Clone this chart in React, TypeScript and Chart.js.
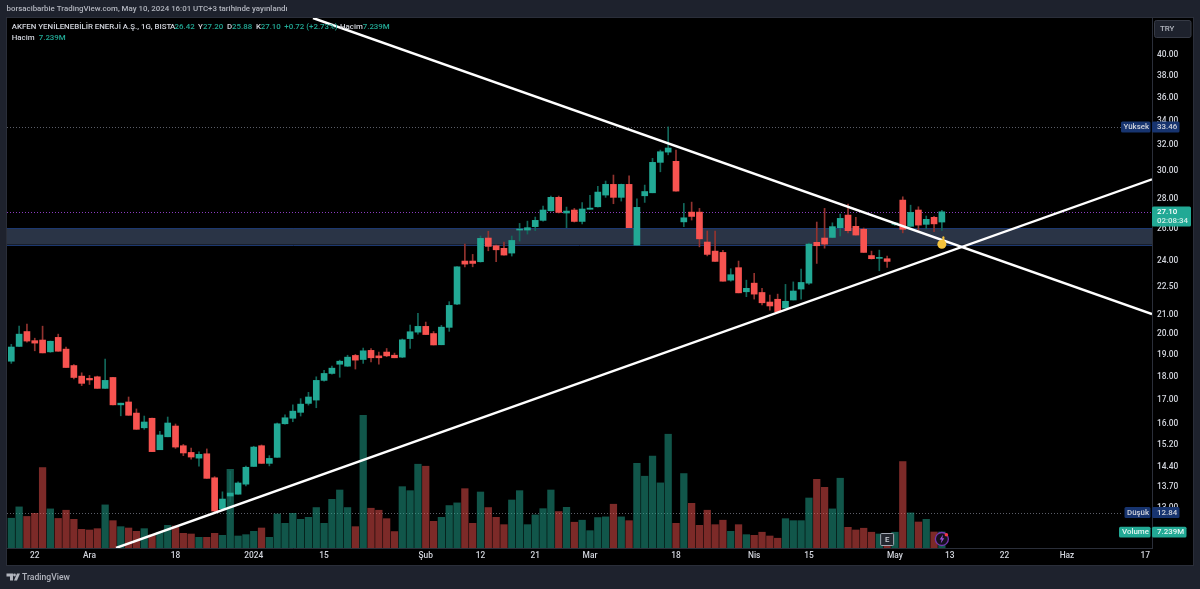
import React, { useEffect, useRef } from "react";
import { Chart, registerables } from "chart.js";

Chart.register(...registerables);

const FONT = "Roboto";

const opens = [
  18.70,19.40,20.13,19.68,19.71,19.14,19.84,19.27,18.50,18.02,
  17.92,17.99,17.48,17.96,16.78,16.90,16.44,15.85,16.23,15.01,
  15.50,15.92,15.16,14.91,14.70,14.86,14.00,12.96,13.38,13.44,
  13.78,14.40,15.16,14.51,14.73,16.01,16.23,16.47,16.84,16.98,
  17.83,18.14,18.56,18.47,18.97,18.78,19.21,18.95,19.13,18.98,
  18.89,19.78,20.10,20.39,20.03,19.48,20.34,21.55,23.98,23.98,
  23.94,25.39,24.91,24.75,24.46,25.90,25.90,26.12,26.53,27.17,
  28.09,27.02,27.22,26.46,27.27,27.44,28.25,29.01,28.09,29.01,
  24.95,28.20,28.41,30.64,31.43,30.72,26.43,27.08,27.08,25.14,
  24.58,24.50,22.87,23.59,22.22,22.70,22.18,21.66,21.81,21.34,
  21.77,22.37,22.70,25.12,25.39,25.43,26.05,26.88,26.14,25.95,
  24.31,24.14,24.12,26.27,27.90,26.14,27.22,26.27,26.73,26.42,
];
const highs = [
  19.50,20.40,20.50,19.80,20.40,19.66,20.00,19.37,18.55,18.17,
  18.05,18.02,18.80,17.97,16.85,17.11,16.61,16.32,16.24,15.71,
  16.28,16.00,15.21,15.07,14.93,15.04,14.04,13.52,14.23,13.86,
  14.41,15.14,15.19,14.79,16.04,16.37,16.78,17.04,17.31,17.99,
  18.28,18.47,18.75,18.98,19.02,19.32,19.30,19.13,19.30,19.08,
  19.76,20.45,21.06,20.61,20.13,20.44,21.68,23.66,25.01,24.38,
  25.52,25.82,24.95,25.14,25.52,26.33,26.48,26.75,27.49,28.18,
  28.18,27.42,27.33,27.72,28.23,28.87,29.25,29.69,29.03,29.64,
  27.99,28.96,30.95,31.59,33.46,31.59,27.67,27.76,27.33,25.84,
  25.84,24.62,23.53,23.98,22.87,23.26,22.41,22.04,22.09,22.63,
  22.77,23.51,25.07,26.42,27.33,26.37,26.95,27.62,26.73,26.03,
  24.58,24.64,24.28,26.40,28.13,27.55,27.44,26.82,26.79,27.20,
];
const lows = [
  18.60,19.40,19.60,19.19,19.09,19.12,19.17,18.41,17.90,17.60,
  17.65,17.48,17.48,16.78,16.33,16.35,15.79,15.79,14.94,15.01,
  15.50,15.06,14.79,14.66,14.41,13.98,12.84,12.96,13.19,13.44,
  13.72,14.40,14.51,14.42,14.73,15.99,16.09,16.32,16.77,16.66,
  17.80,18.11,17.97,18.46,18.34,18.60,18.67,18.56,18.91,18.86,
  18.87,19.30,20.00,19.98,19.47,19.48,20.14,21.52,23.64,23.64,
  23.92,24.60,23.94,24.34,24.28,25.20,25.64,25.86,26.48,27.15,
  27.02,26.05,26.42,26.30,27.27,27.42,28.09,27.65,27.83,26.05,
  24.95,27.74,28.41,29.93,31.22,28.53,26.12,26.55,24.84,24.29,
  23.96,22.81,22.81,22.16,21.95,21.82,21.50,21.23,21.14,21.34,
  21.77,21.81,22.63,23.84,24.76,25.41,25.52,25.72,25.58,24.50,
  24.10,23.41,23.61,26.20,25.72,26.14,25.90,25.98,25.79,25.88,
];
const closes = [
  19.37,20.00,19.66,19.56,19.09,19.65,19.17,18.41,17.96,17.70,
  17.85,17.48,17.83,16.78,16.85,16.35,15.79,16.08,14.94,15.57,
  16.04,15.11,14.89,14.74,14.84,13.98,12.89,13.28,13.48,13.82,
  14.37,15.11,14.51,14.69,16.01,16.25,16.52,16.81,17.11,17.83,
  18.14,18.38,18.70,18.89,18.75,19.19,18.86,18.86,18.95,18.86,
  19.72,20.12,20.39,19.98,19.47,20.35,21.48,23.64,23.80,23.84,
  25.37,24.87,24.66,24.34,25.24,25.96,26.05,26.53,27.22,28.09,
  27.06,27.15,26.46,27.29,27.35,28.46,29.01,28.09,29.01,26.05,
  27.40,28.50,30.64,31.46,31.75,28.53,26.70,26.79,25.34,24.38,
  23.96,22.81,23.18,22.16,22.41,22.09,21.62,21.45,21.14,21.70,
  22.26,22.74,25.01,24.91,25.01,26.12,26.66,25.86,25.58,24.50,
  24.12,24.20,23.96,26.36,25.95,27.06,26.22,26.60,26.30,27.10,
];
const volumes = [
  13.4,18.5,14.2,15.6,36.2,17.6,13.3,17.0,12.9,8.4,
  8.1,8.7,19.4,12.3,9.6,9.0,7.5,8.7,5.9,7.1,
  10.2,9.9,6.6,6.3,4.8,4.8,6.6,5.7,35.4,5.4,
  6.0,7.5,9.0,4.8,15.3,11.1,15.6,12.9,13.8,18.2,
  11.1,21.9,26.1,18.2,9.6,59.7,17.9,17.0,13.2,7.4,
  27.6,25.8,37.7,36.8,12.0,13.8,19.1,20.3,26.7,11.1,
  25.2,18.2,13.8,10.5,21.6,25.8,10.5,14.9,17.7,26.1,
  16.4,18.3,11.6,12.5,7.8,13.7,14.0,19.7,14.0,12.3,
  38.1,32.3,41.4,29.3,51.2,11.1,33.5,20.1,10.2,17.0,
  10.5,12.5,7.5,10.5,6.0,5.7,7.1,5.4,4.4,13.2,
  12.3,12.3,22.5,30.9,27.3,17.6,31.4,9.3,8.1,8.9,
  7.1,6.3,4.5,7.1,38.9,15.8,11.7,12.9,7.2,7.239,
];

const priceTicks = [40,38,36,34,32,30,28,26,24,22.5,21,20,19,18,17,16,15.2,14.4,13.7,13];
const timeTickIndex = [3,10,21,31,40,53,60,67,74,85,95,102,113,120,127,135,145];
const timeTickLabels = ["22","Ara","18","2024","15","Şub","12","21","Mar","18","Nis","15","May","13","22","Haz","17"];

const resistanceX = [38.58, 145.87];
const resistanceY = [43.85, 21.02];
const supportX = [13.39, 145.87];
const supportY = [11.76, 29.38];
const zoneTop = 26.03;
const zoneBottom = 24.98;
const highMark = 33.46;
const lowMark = 12.84;
const lastClose = 27.10;
const markerIndex = 119;
const markerPrice = 25.0;

const GREEN = "#22a995";
const RED = "#f75350";
const GREEN_WICK = "#12685b";
const RED_WICK = "#93332f";
const GREEN_VOL = "rgba(34,171,148,0.5)";
const RED_VOL = "rgba(247,83,80,0.5)";
const NAVY = "#17346f";
const TEXT = "#d1d4dc";

const up = closes.map((c, i) => c >= opens[i]);

function tag(ctx: any, x0: number, x1: number, y0: number, y1: number, fill: string, text: string, tx: number, ty: number, color: string, align: any = "left") {
  ctx.fillStyle = fill;
  ctx.beginPath();
  ctx.roundRect(x0, y0, x1 - x0, y1 - y0, 1.5);
  ctx.fill();
  ctx.fillStyle = color;
  ctx.textAlign = align;
  ctx.textBaseline = "middle";
  ctx.fillText(text, tx, ty);
}

const backdrop = {
  id: "backdrop",
  beforeDraw(chart: any) {
    const ctx = chart.ctx;
    ctx.save();
    ctx.fillStyle = "#1e222d";
    ctx.fillRect(0, 0, 1200, 589);
    ctx.fillStyle = "#000000";
    ctx.fillRect(7, 18, 1186, 547.5);
    ctx.strokeStyle = "#2a2e39";
    ctx.strokeRect(6.5, 17.5, 1187, 548);
    ctx.restore();
  },
  beforeDatasetsDraw(chart: any) {
    const ctx = chart.ctx;
    const y = chart.scales.y;
    const { left, right } = chart.chartArea;
    ctx.save();
    const t = y.getPixelForValue(zoneTop);
    const b = y.getPixelForValue(zoneBottom);
    ctx.fillStyle = "#2a3446";
    ctx.fillRect(left, t, right - left, b - t);
    ctx.strokeStyle = "#1c3870";
    ctx.lineWidth = 1;
    ctx.beginPath();
    ctx.moveTo(left, Math.round(t) + 0.5);
    ctx.lineTo(right, Math.round(t) + 0.5);
    ctx.moveTo(left, Math.round(b) + 0.5);
    ctx.lineTo(right, Math.round(b) + 0.5);
    ctx.stroke();
    ctx.setLineDash([1, 2]);
    ctx.strokeStyle = "#5b5e68";
    ctx.beginPath();
    for (const v of [highMark, lowMark]) {
      const py = Math.round(y.getPixelForValue(v)) + 0.5;
      ctx.moveTo(left, py);
      ctx.lineTo(1121, py);
    }
    ctx.stroke();
    ctx.strokeStyle = "#8a3cc0";
    ctx.beginPath();
    const py = Math.round(y.getPixelForValue(lastClose)) + 0.5;
    ctx.moveTo(left, py);
    ctx.lineTo(right, py);
    ctx.stroke();
    ctx.restore();
  },
  afterDraw(chart: any) {
    const ctx = chart.ctx;
    const y = chart.scales.y;
    const x = chart.scales.x;
    ctx.save();
    ctx.textBaseline = "middle";
    ctx.textAlign = "left";

    ctx.font = `500 7.9px ${FONT}`;
    ctx.fillStyle = "#b2b5be";
    ctx.fillText("borsacibarbie TradingView.com, May 10, 2024 16:01 UTC+3 tarihinde yayınlandı", 6.5, 9.5);

    const t1 = (s: string, px: number, py: number, c: string) => {
      ctx.fillStyle = c;
      ctx.fillText(s, px, py);
    };
    ctx.font = `500 7.9px ${FONT}`;
    t1("AKFEN YENİLENEBİLİR ENERJİ A.Ş., 1G, BIST", 11.7, 27, TEXT);
    t1("A", 170, 27, TEXT);
    t1("26.42", 174.5, 27, GREEN);
    t1("Y", 198, 27, TEXT);
    t1("27.20", 203, 27, GREEN);
    t1("D", 227, 27, TEXT);
    t1("25.88", 232, 27, GREEN);
    t1("K", 256, 27, TEXT);
    t1("27.10", 260.7, 27, GREEN);
    t1("+0.72 (+2.73%)", 284.3, 27, GREEN);
    t1("Hacim", 340, 27, TEXT);
    t1("7.239M", 362.7, 27, GREEN);
    t1("Hacim", 11.7, 38, TEXT);
    t1("7.239M", 38.7, 38, GREEN);

    // Currency button
    ctx.fillStyle = "#1e222d";
    ctx.strokeStyle = "#363a45";
    ctx.beginPath();
    ctx.roundRect(1154.5, 20.5, 36.5, 17, 2);
    ctx.fill();
    ctx.stroke();
    t1("TRY", 1160, 29, "#b2b5be");

    // Price tags
    const hy = y.getPixelForValue(highMark);
    tag(ctx, 1121, 1150.5, hy - 5.5, hy + 5.5, NAVY, "Yüksek", 1123.5, hy, TEXT);
    tag(ctx, 1152, 1179.5, hy - 5.5, hy + 5.5, NAVY, "33.46", 1157, hy, TEXT);
    const ly = y.getPixelForValue(lowMark);
    tag(ctx, 1124.5, 1150.5, ly - 5.5, ly + 5.5, NAVY, "Düşük", 1127, ly, TEXT);
    tag(ctx, 1152, 1179.5, ly - 5.5, ly + 5.5, NAVY, "12.84", 1157, ly, TEXT);
    const cy = y.getPixelForValue(lastClose);
    tag(ctx, 1152, 1191, cy - 5.3, cy + 14.7, GREEN, "27.10", 1157, cy, "#ffffff");
    ctx.fillStyle = "#cfeee8";
    ctx.fillText("02:08:34", 1157, cy + 9.5);
    tag(ctx, 1119, 1150.5, 526.7, 537.4, GREEN, "Volume", 1122, 532, "#e4f6f2");
    tag(ctx, 1152, 1186.5, 526.7, 537.4, GREEN, "7.239M", 1157, 532, "#e4f6f2");

    // E badge
    const ex = x.getPixelForValue(112);
    ctx.fillStyle = "#23272f";
    ctx.strokeStyle = "#a4a8b3";
    ctx.lineWidth = 1;
    ctx.beginPath();
    ctx.roundRect(ex - 6.5, 533.5, 13, 12, 1);
    ctx.fill();
    ctx.stroke();
    ctx.textAlign = "center";
    t1("E", ex, 539.7, "#d1d4dc");

    // Lightning badge
    const bx = x.getPixelForValue(119);
    ctx.fillStyle = "#14101c";
    ctx.strokeStyle = "#7636b0";
    ctx.lineWidth = 1.3;
    ctx.beginPath();
    ctx.arc(bx, 539, 6.5, 0, Math.PI * 2);
    ctx.fill();
    ctx.stroke();
    ctx.fillStyle = "#9b4fd6";
    ctx.beginPath();
    ctx.moveTo(bx + 1.2, 534.6);
    ctx.lineTo(bx - 2.2, 539.6);
    ctx.lineTo(bx - 0.2, 539.6);
    ctx.lineTo(bx - 1.2, 543.4);
    ctx.lineTo(bx + 2.4, 538.2);
    ctx.lineTo(bx + 0.4, 538.2);
    ctx.closePath();
    ctx.fill();
    ctx.fillStyle = "#f23645";
    ctx.beginPath();
    ctx.arc(bx + 4.5, 534.8, 1.8, 0, Math.PI * 2);
    ctx.fill();

    // Pointing finger on the marker
    const mx = x.getPixelForValue(markerIndex);
    const my = y.getPixelForValue(markerPrice);
    ctx.fillStyle = "#f5c33b";
    ctx.beginPath();
    ctx.roundRect(mx + 0.5, my - 8, 2, 6, 1);
    ctx.fill();

    // Footer logo
    ctx.fillStyle = "#b2b5be";
    ctx.beginPath();
    ctx.moveTo(6.5, 573.5);
    ctx.lineTo(13, 573.5);
    ctx.lineTo(13, 580.5);
    ctx.lineTo(10, 580.5);
    ctx.lineTo(10, 576.5);
    ctx.lineTo(6.5, 576.5);
    ctx.closePath();
    ctx.fill();
    ctx.beginPath();
    ctx.arc(14.5, 575, 1.4, 0, Math.PI * 2);
    ctx.fill();
    ctx.beginPath();
    ctx.moveTo(17, 573.5);
    ctx.lineTo(20, 573.5);
    ctx.lineTo(17, 580.5);
    ctx.lineTo(14, 580.5);
    ctx.closePath();
    ctx.fill();
    ctx.textAlign = "left";
    ctx.font = `500 8.6px ${FONT}`;
    t1("TradingView", 22, 577.5, "#b2b5be");
    ctx.restore();
  },
};

export default function App() {
  const ref = useRef<HTMLCanvasElement | null>(null);

  useEffect(() => {
    document.body.style.margin = "0";
    document.body.style.background = "#1e222d";
    const idx = opens.map((_, i) => i);
    const chart = new Chart(ref.current as HTMLCanvasElement, {
      type: "bar",
      data: {
        datasets: [
          {
            type: "line",
            label: "Marker",
            data: [{ x: markerIndex, y: markerPrice }],
            showLine: false,
            pointRadius: 4.5,
            pointBackgroundColor: "#f5c33b",
            pointBorderWidth: 0,
            xAxisID: "x",
            yAxisID: "y",
            order: 0,
          },
          {
            type: "line",
            label: "Resistance",
            data: resistanceX.map((v, i) => ({ x: v, y: resistanceY[i] })),
            borderColor: "#ffffff",
            borderWidth: 2.4,
            pointRadius: 0,
            xAxisID: "x",
            yAxisID: "y",
            order: 1,
          },
          {
            type: "line",
            label: "Support",
            data: supportX.map((v, i) => ({ x: v, y: supportY[i] })),
            borderColor: "#ffffff",
            borderWidth: 2.4,
            pointRadius: 0,
            xAxisID: "x",
            yAxisID: "y",
            order: 1,
          },
          {
            label: "Body",
            data: idx.map((i) => ({ x: i, y: [opens[i], closes[i]] })),
            backgroundColor: idx.map((i) => (up[i] ? GREEN : RED)),
            barThickness: 6,
            minBarLength: 1,
            grouped: false,
            xAxisID: "x",
            yAxisID: "y",
            order: 2,
          },
          {
            label: "Wick",
            data: idx.map((i) => ({ x: i, y: [lows[i], highs[i]] })),
            backgroundColor: idx.map((i) => (up[i] ? GREEN_WICK : RED_WICK)),
            barThickness: 1,
            grouped: false,
            xAxisID: "x",
            yAxisID: "y",
            order: 3,
          },
          {
            label: "Hacim",
            data: idx.map((i) => ({ x: i, y: volumes[i] })),
            backgroundColor: idx.map((i) => (up[i] ? GREEN_VOL : RED_VOL)),
            barThickness: 6.6,
            grouped: false,
            xAxisID: "x",
            yAxisID: "yVol",
            order: 4,
          },
        ],
      } as any,
      options: {
        responsive: false,
        animation: false,
        layout: { padding: { left: 7, right: 7, top: 18, bottom: 24 } },
        plugins: { legend: { display: false }, tooltip: { enabled: false } },
        scales: {
          x: {
            type: "linear",
            offset: false,
            min: -0.55,
            max: 145.87,
            grid: { display: false, drawTicks: false },
            border: { display: true, color: "#2a2e39" },
            afterBuildTicks: (s: any) => {
              s.ticks = timeTickIndex.map((value) => ({ value }));
            },
            afterFit: (s: any) => {
              s.height = 17;
            },
            ticks: {
              color: TEXT,
              padding: 3,
              autoSkip: false,
              maxRotation: 0,
              font: { family: FONT, size: 8.4, weight: "500" },
              callback: (v: any) => timeTickLabels[timeTickIndex.indexOf(v)] ?? "",
            },
          },
          y: {
            type: "logarithmic",
            position: "right",
            min: 11.76,
            max: 43.85,
            grid: { display: false, drawTicks: false },
            border: { display: true, color: "#2a2e39" },
            afterBuildTicks: (s: any) => {
              s.ticks = priceTicks.map((value) => ({ value, major: false }));
            },
            afterFit: (s: any) => {
              s.width = 41;
            },
            ticks: {
              color: TEXT,
              padding: 5,
              autoSkip: false,
              font: { family: FONT, size: 8.4, weight: "500" },
              callback: (v: any) => Number(v).toFixed(2),
            },
          },
          yVol: {
            type: "linear",
            display: false,
            min: 0,
            max: 238.5,
          },
        },
      } as any,
      plugins: [backdrop],
    });
    return () => chart.destroy();
  }, []);

  return (
    <canvas
      ref={ref}
      width={1200}
      height={589}
      style={{ position: "absolute", left: 0, top: 0, display: "block" }}
    />
  );
}
